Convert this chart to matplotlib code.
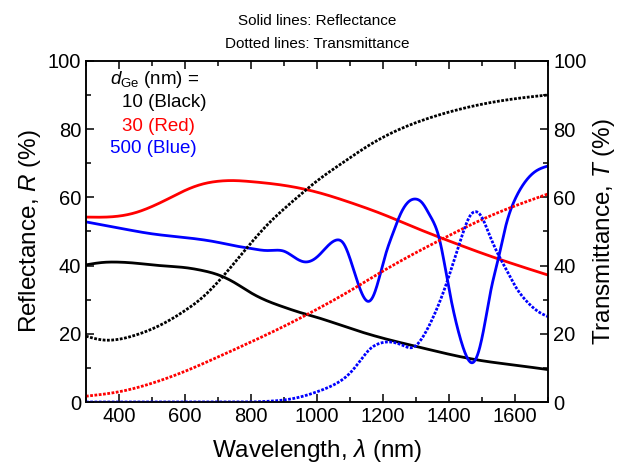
"""
Reflectance and transmittance spectra of Ge films of different thickness.
"""

import matplotlib
matplotlib.use("Agg")
import matplotlib.pyplot as plt
from matplotlib.ticker import MultipleLocator
import numpy as np

plt.rcParams["font.family"] = ["Liberation Sans", "DejaVu Sans"]
plt.rcParams["mathtext.fontset"] = "custom"
plt.rcParams["mathtext.rm"] = "Liberation Sans"
plt.rcParams["mathtext.it"] = "Liberation Sans:italic"

# --- d_Ge = 10 nm (black) ---
wl_r10 = [300, 350, 400, 450, 500, 550, 600, 650, 700, 750, 800, 850, 900, 950,
          1000, 1100, 1200, 1300, 1400, 1500, 1600, 1700]
r10 = [40.2, 40.9, 41.0, 40.7, 40.2, 39.8, 39.4, 38.6, 37.3, 35.0, 32.0, 29.6, 27.8, 26.2,
       24.8, 21.6, 18.7, 16.3, 14.0, 12.1, 10.8, 9.5]
wl_t10 = [300, 350, 400, 450, 500, 550, 600, 650, 700, 750, 800, 850, 900, 950,
          1000, 1050, 1100, 1150, 1200, 1300, 1400, 1500, 1600, 1700]
t10 = [19.3, 18.2, 18.4, 19.6, 21.4, 23.8, 26.8, 30.4, 35.2, 40.8, 46.6, 52.0, 56.6, 60.8,
       64.8, 68.3, 71.6, 74.8, 77.6, 81.9, 85.0, 87.3, 88.9, 90.0]

# --- d_Ge = 30 nm (red) ---
wl_r30 = [300, 400, 450, 500, 550, 600, 650, 700, 750, 800, 900, 1000, 1100, 1200,
          1300, 1400, 1500, 1600, 1700]
r30 = [54.2, 54.5, 55.5, 57.3, 59.6, 62.0, 63.8, 64.7, 64.9, 64.6, 63.5, 61.5, 58.5, 55.0,
       51.0, 47.2, 43.6, 40.3, 37.2]
wl_t30 = [300, 400, 500, 600, 700, 800, 900, 1000, 1100, 1200, 1300, 1400, 1500, 1600, 1700]
t30 = [1.7, 3.0, 5.5, 9.0, 13.2, 17.6, 22.2, 27.2, 32.6, 38.4, 43.8, 48.8, 53.5, 57.5, 61.0]

# --- d_Ge = 500 nm (blue) ---
wl_r500 = [300, 400, 500, 600, 700, 750, 800, 850, 880, 900, 930, 960, 980, 1000, 1030,
           1060, 1080, 1100, 1120, 1140, 1155, 1170, 1190, 1210, 1230, 1250, 1275, 1297,
           1320, 1340, 1370, 1400, 1430, 1450, 1469, 1490, 1510, 1527, 1549, 1570, 1600,
           1630, 1660, 1700]
r500 = [52.8, 51.0, 49.3, 48.2, 46.8, 45.8, 45.0, 44.4, 44.5, 44.2, 42.5, 41.1, 41.3, 42.5,
        45.5, 47.5, 46.5, 42.0, 36.0, 31.0, 29.5, 31.0, 37.0, 44.0, 49.5, 54.5, 58.5, 59.5,
        58.2, 55.0, 48.0, 33.0, 20.0, 14.0, 11.5, 15.0, 24.0, 33.0, 42.0, 51.0, 59.5,
        64.5, 67.5, 69.2]
wl_t500 = [300, 800, 850, 900, 950, 1000, 1050, 1100, 1130, 1160, 1190, 1230, 1260, 1290,
           1320, 1350, 1380, 1410, 1440, 1460, 1479, 1500, 1520, 1550, 1575, 1600, 1636,
           1670, 1700]
t500 = [0.0, 0.0, 0.2, 0.6, 1.5, 3.0, 5.0, 8.5, 12.0, 15.5, 17.2, 17.5, 16.6, 16.0,
        19.0, 24.5, 31.5, 40.0, 49.0, 54.0, 55.8, 54.0, 49.5, 43.0, 38.5, 34.0, 29.4,
        26.5, 25.0]

COLORS = {"10": "#000000", "30": "#ff0000", "500": "#0000ff"}
DOTS = (0, (1, 0.55))
FS_TICK = 14.5
FS_LABEL = 17.5


def spline(x, y, n=800):
    """Natural cubic spline through (x, y), sampled at n points."""
    x = np.asarray(x, float)
    y = np.asarray(y, float)
    h = np.diff(x)
    m = len(x)
    A = np.zeros((m, m))
    b = np.zeros(m)
    A[0, 0] = A[-1, -1] = 1.0
    for i in range(1, m - 1):
        A[i, i - 1] = h[i - 1]
        A[i, i] = 2 * (h[i - 1] + h[i])
        A[i, i + 1] = h[i]
        b[i] = 6 * ((y[i + 1] - y[i]) / h[i] - (y[i] - y[i - 1]) / h[i - 1])
    M = np.linalg.solve(A, b)
    xs = np.linspace(x[0], x[-1], n)
    k = np.clip(np.searchsorted(x, xs) - 1, 0, m - 2)
    t0 = x[k + 1] - xs
    t1 = xs - x[k]
    hk = h[k]
    ys = (M[k] * t0 ** 3 + M[k + 1] * t1 ** 3) / (6 * hk) \
        + (y[k] / hk - M[k] * hk / 6) * t0 + (y[k + 1] / hk - M[k + 1] * hk / 6) * t1
    return xs, ys


fig = plt.figure(figsize=(6.18, 4.68), dpi=100)
ax = fig.add_axes([0.139, 0.141, 0.748, 0.729])
ax2 = ax.twinx()

for wl, r, key in [(wl_r10, r10, "10"), (wl_r30, r30, "30"), (wl_r500, r500, "500")]:
    xs, ys = spline(wl, r)
    ax.plot(xs, ys, color=COLORS[key], lw=2.0, solid_capstyle="round")

for wl, t, key in [(wl_t10, t10, "10"), (wl_t30, t30, "30"), (wl_t500, t500, "500")]:
    xs, ys = spline(wl, t)
    ax2.plot(xs, np.clip(ys, 0, None), color=COLORS[key], lw=2.0, ls=DOTS)

for a in (ax, ax2):
    a.set_xlim(300, 1700)
    a.set_ylim(0, 100)
    a.yaxis.set_major_locator(MultipleLocator(20))
    a.yaxis.set_minor_locator(MultipleLocator(10))
ax.xaxis.set_minor_locator(MultipleLocator(100))
ax.set_xticks(range(400, 1700, 200))

ax.tick_params(which="both", direction="in", top=True, right=False, labelsize=FS_TICK, width=1.1)
ax2.tick_params(which="both", direction="in", labelsize=FS_TICK, width=1.1)
for a in (ax, ax2):
    a.tick_params(which="major", length=6)
    a.tick_params(which="minor", length=3.5)
    for s in a.spines.values():
        s.set_linewidth(1.1)

ax.set_xlabel("Wavelength, $\\it{\\lambda}$ (nm)", fontsize=FS_LABEL, labelpad=8)
ax.set_ylabel("Reflectance, $\\it{R}$ (%)", fontsize=FS_LABEL, labelpad=3)
ax2.set_ylabel("Transmittance, $\\it{T}$ (%)", fontsize=FS_LABEL, labelpad=3)

fig.text(0.513, 1 - 21 / 468, "Solid lines: Reflectance", ha="center", va="center", fontsize=11)
fig.text(0.513, 1 - 44 / 468, "Dotted lines: Transmittance", ha="center", va="center", fontsize=11)

ax.text(0.052, 0.944, "$d_{\\mathrm{Ge}}$ (nm) =", transform=ax.transAxes,
        ha="left", va="center", fontsize=13.5)
ax.text(0.078, 0.877, "10 (Black)", transform=ax.transAxes, ha="left", va="center",
        fontsize=13.5, color=COLORS["10"])
ax.text(0.078, 0.809, "30 (Red)", transform=ax.transAxes, ha="left", va="center",
        fontsize=13.5, color=COLORS["30"])
ax.text(0.052, 0.742, "500 (Blue)", transform=ax.transAxes, ha="left", va="center",
        fontsize=13.5, color=COLORS["500"])

fig.savefig("out.png", dpi=100)
